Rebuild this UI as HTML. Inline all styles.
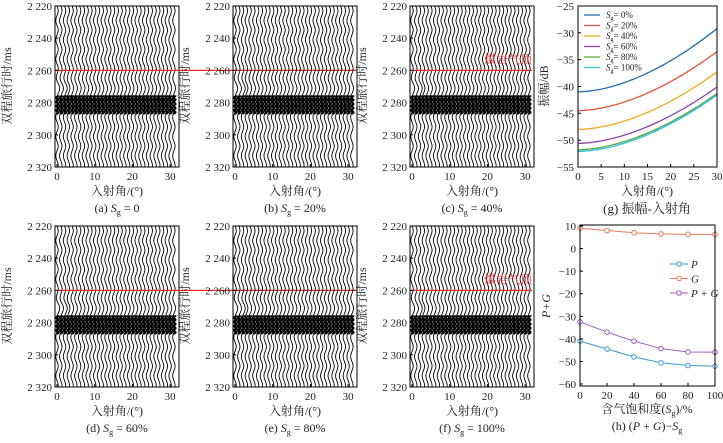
<!DOCTYPE html><html><head><meta charset="utf-8"><style>
body{margin:0;background:#fff;width:723px;height:438px;overflow:hidden}
svg text{font-family:"Liberation Serif","Noto Serif CJK SC",serif;fill:#222}
</style></head><body>
<svg id="s" width="723" height="438" xmlns="http://www.w3.org/2000/svg"></svg>
<script>
const S=document.getElementById('s');let h='';
function T(x,y,t,o){o=o||{};h+=`<text x="${x}" y="${y}" font-size="${o.fs||11}" text-anchor="${o.a||'middle'}" ${o.tr?`transform="${o.tr}"`:''} ${o.fill?`style="fill:${o.fill}"`:''}>${t}</text>`;}
const cols=[55,233,410],rows=[6,226],caps=[['a','0'],['b','20%'],['c','40%'],['d','60%'],['e','80%'],['f','100%']];
let k=0;
rows.forEach((top,ri)=>{cols.forEach((L,ci)=>{
 const B=top+161,R=L+124;
 const ty=t=>top+(t-2220)*1.61, tx=a=>L+2+a*3.77;
 for(let i=0;i<32;i++){
  let d='',x0=tx(i),d2='';
  for(let t=2220;t<=2320;t+=0.5){
   let hump=Math.exp(-Math.pow((t-2272)/7,2))*(i<3?1.5:0.4);
   let x=x0+1.2*Math.sin(2*Math.PI*(t-2220)/12)+hump;
   d+=(d?'L':'M')+x.toFixed(2)+' '+ty(t).toFixed(2);}
  h+=`<path d="${d}" fill="none" stroke="#000" stroke-width="0.9"/>`;
  for(let t=2275.5;t<=2287;t+=0.25){
   let x=x0+0.4+1.2*Math.sin(2*Math.PI*(t-2275)/2.6);
   d2+=(d2?'L':'M')+x.toFixed(2)+' '+ty(t).toFixed(2);}
  h+=`<path d="${d2}" fill="none" stroke="#000" stroke-width="2.2"/>`;
 }
 h+=`<rect x="${L}" y="${top}" width="124" height="161" fill="none" stroke="#000" stroke-width="1"/>`;
 if(ci!=1)h+=`<line x1="${L}" x2="${ci==0?cols[1]+124:R-2}" y1="${ty(2260)}" y2="${ty(2260)}" stroke="#e8262b" stroke-width="1.3"/>`;
 if(ci==2)T(R-26,ty(2260)-7,'煤岩气顶',{fs:12,fill:'#e8262b'});
 for(let t=2220;t<=2320;t+=20){let y=ty(t);h+=`<line x1="${L}" x2="${L+3}" y1="${y}" y2="${y}" stroke="#000"/>`;T(L-3,y+4,'2 '+t%1000,{a:'end'});}
 for(let a=0;a<=30;a+=10){let x=tx(a);h+=`<line x1="${x}" x2="${x}" y1="${B}" y2="${B-3}" stroke="#000"/>`;T(x,B+13,a);}
 T(L+62,B+28,'入射角/(°)',{fs:12});
 T(L-44,top+80,'双程旅行时/ms',{fs:12,tr:`rotate(-90 ${L-44} ${top+80})`});
 let c=caps[k++];h+=`<text x="${L+62}" y="${B+45}" font-size="12" text-anchor="middle">(${c[0]}) <tspan font-style="italic">S</tspan><tspan font-size="8" dy="3">g</tspan><tspan dy="-3"> = ${c[1]}</tspan></text>`;
});});
{const L=578,R=717,top=6,B=167;const xs=v=>L+v/30*(R-L),ys=v=>top+(-25-v)/30*(B-top);
 const st=[-41,-44.5,-48,-50.6,-51.8,-52.1],en=[-29.2,-33.5,-37.3,-40.1,-41.3,-41.6],cl=['#1f6fb8','#e35336','#f5a623','#8e44ad','#5aa33c','#2ec5ea'],lb=['0%','20%','40%','60%','80%','100%'];
 st.forEach((s,i)=>{let d='';for(let x=0;x<=30;x+=0.5){let v=s+(en[i]-s)*Math.pow(x/30,1.75);d+=(d?'L':'M')+xs(x).toFixed(1)+' '+ys(v).toFixed(1);}h+=`<path d="${d}" fill="none" stroke="${cl[i]}" stroke-width="1.3"/>`;
  let y=15+i*10.5;h+=`<line x1="584" x2="600" y1="${y}" y2="${y}" stroke="${cl[i]}" stroke-width="1.3"/>`;h+=`<text x="606" y="${y+3}" font-size="9"><tspan font-style="italic">S</tspan><tspan font-size="6" dy="2">g</tspan><tspan dy="-2">= ${lb[i]}</tspan></text>`;});
 h+=`<rect x="${L}" y="${top}" width="${R-L}" height="${B-top}" fill="none" stroke="#000"/>`;
 for(let v=-25;v>=-55;v-=5){T(L-4,ys(v)+4,'−'+(-v),{a:'end'});h+=`<line x1="${L}" x2="${L+3}" y1="${ys(v)}" y2="${ys(v)}" stroke="#000"/>`;}
 for(let v=0;v<=30;v+=5){T(xs(v),B+13,v);h+=`<line x1="${xs(v)}" x2="${xs(v)}" y1="${B}" y2="${B-3}" stroke="#000"/>`;}
 T(548,86,'振幅/dB',{fs:12,tr:'rotate(-90 548 86)'});T(647,195,'入射角/(°)',{fs:12});T(647,213,'(g) 振幅-入射角',{fs:13});}
{const L=580,R=715,top=225,B=386;const xs=v=>L+v/100*(R-L),ys=v=>226+(10-v)/70*158;
 const X=[0,20,40,60,80,100],D=[[-41,-44.5,-48,-50.6,-51.8,-52.1],[9,8,7,6.5,6.3,6.3],[-32.5,-37,-41,-44.3,-45.8,-45.9]],cl=['#3a9ad9','#e9795a','#9a5bc4'];
 D.forEach((a,i)=>{h+=`<polyline points="${a.map((v,j)=>xs(X[j])+','+ys(v)).join(' ')}" fill="none" stroke="${cl[i]}" stroke-width="1"/>`;a.forEach((v,j)=>h+=`<circle cx="${xs(X[j])}" cy="${ys(v)}" r="2.3" fill="#fff" stroke="${cl[i]}"/>`);
  let y=264+i*14.5;h+=`<line x1="670" x2="688" y1="${y}" y2="${y}" stroke="${cl[i]}"/><circle cx="679" cy="${y}" r="2.3" fill="#fff" stroke="${cl[i]}"/>`;h+=`<text x="691" y="${y+4}" font-size="11" font-style="italic">${['P','G','P + G'][i]}</text>`;});
 h+=`<rect x="${L}" y="${top}" width="${R-L}" height="${B-top}" fill="none" stroke="#000"/>`;
 for(let v=10;v>=-60;v-=10){T(L-4,ys(v)+4,v<0?'−'+(-v):v,{a:'end'});h+=`<line x1="${L}" x2="${L+3}" y1="${ys(v)}" y2="${ys(v)}" stroke="#000"/>`;}
 for(let v=0;v<=100;v+=20){T(xs(v),B+13,v);h+=`<line x1="${xs(v)}" x2="${xs(v)}" y1="${B}" y2="${B-3}" stroke="#000"/>`;}
 h+=`<text x="550" y="306" font-size="12" font-style="italic" transform="rotate(-90 550 306)" text-anchor="middle">P+G</text>`;
 h+=`<text x="647" y="413" font-size="12" text-anchor="middle">含气饱和度(<tspan font-style="italic">S</tspan><tspan font-size="8" dy="3">g</tspan><tspan dy="-3">)/%</tspan></text>`;
 h+=`<text x="647" y="430" font-size="12" text-anchor="middle">(h) (<tspan font-style="italic">P</tspan> + <tspan font-style="italic">G</tspan>)−<tspan font-style="italic">S</tspan><tspan font-size="8" dy="3">g</tspan></text>`;}
S.innerHTML=h;
</script></body></html>
